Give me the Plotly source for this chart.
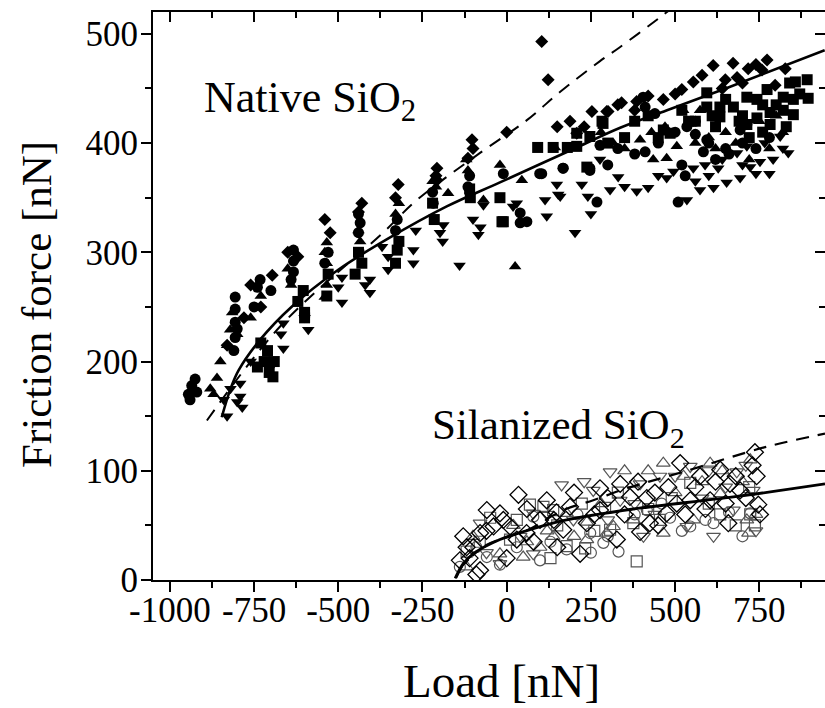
import plotly.graph_objects as go

# ---------------- data (load [nN], friction [nN]) ----------------
# Native SiO2 (filled symbols)
nat_circle_x = [-945, -935, -925, -940, -920, -806, -806, -806, -806, -810, -732, -740, -633, -633, -633, -540,
                -435, -440, -325, -218, -115, 40, 40, 60, 98, 104, 168, 167, 247, 247, 268, 277, 405, 411, 440,
                411, 509, 535, 560, 584, 594, 693, 713, 600, 650, 520,
                330, 380, 450, 500, 560, 620, 660, 700, 740, 780, 300, 530,
                -800, -750, -700, -640, -530, -440, -330, -220, -110, -10]
nat_circle_y = [170, 178, 184, 165, 172, 259, 248, 236, 222, 210, 275, 268, 302, 292, 282, 290,
                327, 318, 330, 345, 360, 336, 327, 328, 372, 372, 377, 377, 377, 375, 346, 398, 442, 433, 427,
                392, 346, 415, 408, 392, 403, 412, 417, 400, 395, 380,
                395, 390, 400, 410, 420, 385, 390, 400, 395, 405, 380, 370,
                230, 250, 265, 275, 300, 335, 320, 355, 370, 372]

nat_square_x = [-730, -720, -705, -694, -604, -600, -534, -440, -430, -325, -320, -215, -108, -14, -10, 92, 138,
                180, 208, 208, 238, 247, 286, 283, 465, 485, 594, 594, 633, 633, 673, 713, 713, 743, 743, 773,
                782, 782, 821, 821, 851, 851, 857, 892, 895, 560, 620, 700, 760,
                300, 350, 380, 420, 450, 520, 540, 610, 650, 690, 720, 760, 800, 830, 870, 840,
                -740, -710, -690, -620, -530, -450, -330, -220, -110, -20, -600]
nat_square_y = [217, 200, 190, 186, 265, 245, 260, 300, 290, 302, 310, 330, 350, 328, 328, 396, 396,
                396, 409, 397, 378, 406, 418, 420, 412, 409, 446, 433, 433, 424, 433, 442, 417, 440, 423, 449,
                428, 417, 442, 430, 440, 426, 456, 458, 441, 420, 415, 425, 435,
                400, 405, 420, 425, 405, 430, 420, 425, 440, 420, 405, 410, 435, 415, 445, 455,
                195, 210, 200, 255, 280, 280, 290, 345, 358, 350, 240]

nat_diamond_x = [-696, -730, -524, -440, -322, -207, -207, -103, -115, 0, 104, 123, 188, 208, 253, 301, 297,
                 341, 386, 465, 520, 554, 613, 649, 672, 684, 717, 758, 773, 797, 827, -620, -780, -830,
                 420, 500, 580, 640, 700, 740, 380, 330, 150, 230,
                 -760, -650, -540, -430, -330, -210, -100]
nat_diamond_y = [279, 250, 318, 337, 362, 377, 366, 403, 386, 410, 493, 458, 420, 409, 429, 429, 429,
                 437, 438, 440, 449, 456, 471, 458, 473, 460, 468, 467, 476, 453, 468, 296, 240, 215,
                 443, 445, 462, 450, 455, 472, 430, 435, 415, 415,
                 270, 300, 330, 345, 350, 370, 395]

nat_tri_up_x = [-870, -860, -850, -821, -815, -534, -534, -534, -540, -174, 45, 25, 143, 316, 396, 435, 475,
                505, 524, 574, -730, -640, -435, -320, -210, -115, 600, 650, 700, 750, 800, -69,
                350, 430, 470, 560, 620, 680, 720, 780, 820, 280, 200,
                -880, -830, -800, -760, -650, -540, -440, -330, -220, -120, -20]
nat_tri_up_y = [170, 185, 200, 229, 245, 309, 290, 270, 259, 354, 366, 287, 396, 400, 403, 385, 386,
                397, 430, 430, 260, 270, 310, 345, 360, 375, 405, 410, 415, 420, 425, 348,
                395, 410, 415, 400, 395, 400, 385, 395, 410, 410, 395,
                175, 215, 225, 240, 285, 300, 320, 335, 365, 385, 380]

nat_tri_dn_x = [-791, -791, -785, -663, -663, -589, -489, -489, -406, -406, -352, -352, -277, -277, -198, -188,
                -78, -84, 19, 30, 114, 119, 149, 159, 153, 203, 223, 241, 277, 307, 331, 386, 420, 475, 495,
                535, 554, 574, 589, 614, 628, 653, 684, 693, 713, 723, 752, 766, 791, 812, 836, -140, -840,
                -830, -760, -69,
                600, 640, 700, 740, 780, 820, 560, 450, 350, 250,
                -820, -800, -700, -670, -600, -500, -420, -370, -270, -190, -100]
nat_tri_dn_y = [180, 168, 158, 235, 212, 229, 277, 254, 275, 263, 296, 284, 302, 290, 318, 325,
                323, 316, 342, 345, 348, 333, 362, 351, 353, 318, 362, 351, 385, 357, 369, 356, 359, 368, 374,
                348, 377, 357, 380, 359, 377, 364, 391, 368, 397, 378, 383, 400, 385, 406, 391, 288, 165,
                150, 200, 343,
                370, 385, 380, 372, 372, 395, 365, 370, 360, 335,
                175, 163, 195, 225, 240, 268, 270, 305, 320, 310, 330]

# Silanized SiO2 (open symbols)
sil_diamond_x = [-139, -119, -79, -129, -79, -20, 35, -39, 10, 59, 119, 148, 188, 238, 277, 337, 366, 416, 425,
                 475, 515, 574, 604, 634, 663, 658, 693, 742, 737, 747, 752, 545, 327, 218, 99, -59, -99, 30,
                 505, 396, 277, 168,
                 -110, -60, -10, 60, 80, 140, 200, 260, 300, 350, 390, 440, 480, 530, 560, 590, 620, 650,
                 680, 710, 730, 450, 150, 0, -90]
sil_diamond_y = [18, 30, 9, 40, 43, 61, 78, 49, 49, 43, 73, 62, 67, 52, 84, 88, 76, 75, 52,
                 61, 107, 95, 73, 101, 88, 52, 82, 95, 117, 69, 60, 73, 37, 24, 55, 64, 30, 37,
                 70, 44, 64, 46,
                 20, 45, 55, 65, 35, 55, 80, 60, 75, 60, 90, 80, 85, 60, 85, 65, 90, 70,
                 95, 75, 105, 50, 30, 20, 5]

sil_tri_up_x = [-119, -20, 49, 99, 178, 238, 297, 376, 465, 525, 555, 604, 723, 718, 713, 634, 465, 376, 317,
                138, 238,
                -100, 20, 120, 200, 280, 350, 420, 500, 580, 640, 700, 740, 60]
sil_tri_up_y = [12, 24, 21, 30, 61, 53, 43, 88, 107, 95, 55, 107, 110, 43, 55, 79, 43, 55, 49,
                40, 37,
                40, 50, 45, 40, 70, 100, 100, 80, 90, 100, 90, 60, 35]

sil_tri_dn_x = [163, 307, 257, 396, 455, 545, 683, 732, 614, 406, 535, -20, -79, 79, 337, 673, 79, 198,
                -60, 40, 120, 230, 300, 380, 440, 500, 580, 650, 710, 740, 600]
sil_tri_dn_y = [87, 99, 82, 88, 95, 104, 99, 82, 40, 40, 49, 15, 52, 61, 73, 64, 24, 55,
                25, 40, 60, 90, 55, 70, 60, 95, 75, 85, 105, 45, 100]

sil_square_x = [69, 109, 223, 292, 376, 386, 233, 178, -49, 723, 737, 634, 545, 455, 307, -119, 10, 138,
                -80, 30, 150, 260, 330, 420, 490, 600, 680, 720, 130]
sil_square_y = [69, 67, 70, 66, 52, 17, 29, 31, 57, 60, 50, 60, 89, 55, 46, 26, 37, 64,
                35, 55, 50, 45, 80, 65, 75, 70, 50, 85, 20]

sil_circle_x = [-20, 99, 178, 287, 332, 485, 614, 723, 545, 416, -139, 79, 248, -59,
                -90, 30, 130, 210, 300, 380, 460, 520, 590, 660, 700, 250]
sil_circle_y = [14, 18, 28, 34, 26, 57, 52, 61, 49, 64, 12, 58, 43, 21,
                30, 30, 35, 60, 40, 60, 70, 45, 55, 62, 40, 25]

# Fit curves
nat_solid_x = [-846, -820, -796, -732, -639, -500, -355, -178, -20, 208, 337, 476, 650, 944]
nat_solid_y = [149, 175, 192, 220, 250, 284, 312, 342, 364, 396, 414, 430, 450, 485]
nat_dash_x = [-890, -670, -367, -266, -79, 60, 159, 277, 337, 455, 480]
nat_dash_y = [146, 233, 318, 348, 391, 421, 447, 475, 488, 515, 521]

sil_solid_x = [-153, -129, -99, -20, 79, 178, 376, 673, 945]
sil_solid_y = [1.5, 15, 24, 37, 47, 55, 65, 76, 88]
sil_dash_x = [-150, -120, -60, 64, 168, 257, 357, 524, 772, 945]
sil_dash_y = [2, 18, 32, 46, 64, 73, 84, 99, 122, 134]

x_ticks = [-1000, -750, -500, -250, 0, 250, 500, 750]
x_ticktext = ["-1000", "-750", "-500", "-250", "0", "250", "500", "750"]
y_ticks = [0, 100, 200, 300, 400, 500]
y_ticktext = ["0", "100", "200", "300", "400", "500"]

# ---------------- figure ----------------
FONT = "Liberation Serif, Times New Roman, serif"
W, H = 825, 708
ML, MR, MT, MB = 153, 0, 12, 128
XR = [-1050, 945]
YR = [0, 520]

fig = go.Figure()

def add_markers(x, y, symbol, size, color, lw=0):
    fig.add_trace(go.Scatter(
        x=x, y=y, mode="markers", showlegend=False, hoverinfo="skip",
        marker=dict(symbol=symbol, size=size, color=color,
                    line=dict(width=lw, color=color))))

# native (filled black)
add_markers(nat_circle_x, nat_circle_y, "circle", 11, "black")
add_markers(nat_square_x, nat_square_y, "square", 11, "black")
add_markers(nat_tri_up_x, nat_tri_up_y, "triangle-up", 11, "black")
add_markers(nat_tri_dn_x, nat_tri_dn_y, "triangle-down", 11, "black")
add_markers(nat_diamond_x, nat_diamond_y, "diamond", 10, "black")

# silanized (open)
GREY = "#555555"
add_markers(sil_circle_x, sil_circle_y, "circle-open", 11, GREY, 1.2)
add_markers(sil_square_x, sil_square_y, "square-open", 11, GREY, 1.2)
add_markers(sil_tri_up_x, sil_tri_up_y, "triangle-up-open", 12, GREY, 1.2)
add_markers(sil_tri_dn_x, sil_tri_dn_y, "triangle-down-open", 12, GREY, 1.2)
add_markers(sil_diamond_x, sil_diamond_y, "diamond-open", 13, "black", 1.3)

# fit lines
fig.add_trace(go.Scatter(x=nat_solid_x, y=nat_solid_y, mode="lines", showlegend=False, hoverinfo="skip",
                         line=dict(color="black", width=2.6, shape="spline", smoothing=1.0)))
fig.add_trace(go.Scatter(x=nat_dash_x, y=nat_dash_y, mode="lines", showlegend=False, hoverinfo="skip",
                         line=dict(color="black", width=2, dash="13px,9px", shape="spline")))
fig.add_trace(go.Scatter(x=sil_solid_x, y=sil_solid_y, mode="lines", showlegend=False, hoverinfo="skip",
                         line=dict(color="black", width=2.8, shape="spline")))
fig.add_trace(go.Scatter(x=sil_dash_x, y=sil_dash_y, mode="lines", showlegend=False, hoverinfo="skip",
                         line=dict(color="black", width=2.2, dash="13px,9px", shape="spline")))

# dummy trace for mirror axes
fig.add_trace(go.Scatter(x=[None], y=[None], xaxis="x2", yaxis="y2", showlegend=False, hoverinfo="skip"))

tickfont = dict(family=FONT, size=35, color="black")
common = dict(showgrid=False, zeroline=False, showline=True, linewidth=2, linecolor="black",
              tickwidth=2, tickcolor="black")

fig.update_layout(
    width=W, height=H,
    margin=dict(l=ML, r=MR, t=MT, b=MB, pad=0),
    paper_bgcolor="white", plot_bgcolor="white",
    showlegend=False,
    xaxis=dict(range=XR, tickmode="array", tickvals=x_ticks, ticktext=x_ticktext,
               ticks="outside", ticklen=10, tickfont=tickfont, ticklabelstandoff=-12,
               minor=dict(dtick=125, tick0=0, ticks="outside", ticklen=6, tickwidth=2,
                          tickcolor="black", showgrid=False),
               **common),
    yaxis=dict(range=YR, tickmode="array", tickvals=y_ticks, ticktext=y_ticktext,
               ticks="outside", ticklen=10, tickfont=tickfont, ticklabelstandoff=-4,
               minor=dict(dtick=50, tick0=0, ticks="outside", ticklen=6, tickwidth=2,
                          tickcolor="black", showgrid=False),
               **common),
    xaxis2=dict(range=XR, overlaying="x", side="top", anchor="y", tickmode="array", tickvals=x_ticks,
                ticks="inside", ticklen=10, showticklabels=False,
                minor=dict(dtick=125, tick0=0, ticks="inside", ticklen=6, tickwidth=2,
                           tickcolor="black", showgrid=False),
                **common),
    yaxis2=dict(range=YR, overlaying="y", side="right", anchor="x", tickmode="array", tickvals=y_ticks,
                ticks="inside", ticklen=10, showticklabels=False,
                minor=dict(dtick=50, tick0=0, ticks="inside", ticklen=6, tickwidth=2,
                           tickcolor="black", showgrid=False),
                **common),
)

pw = W - ML - MR
ph = H - MT - MB

def px2paper(px, py):
    return (px - ML) / pw, (H - MB - py) / ph

ax, ay = px2paper(36, 305)
bx, by = px2paper(501, 681)
nx, ny = px2paper(202, 100)
sx, sy = px2paper(430, 428)

fig.add_annotation(text="Friction force [nN]", x=ax, y=ay, xref="paper", yref="paper",
                   textangle=-90, showarrow=False, xanchor="center", yanchor="middle",
                   font=dict(family=FONT, size=43, color="black"))
fig.add_annotation(text="Load [nN]", x=bx, y=by, xref="paper", yref="paper",
                   showarrow=False, xanchor="center", yanchor="middle",
                   font=dict(family=FONT, size=47, color="black"))
fig.add_annotation(text="Native SiO<sub>2</sub>", x=nx, y=ny, xref="paper", yref="paper",
                   showarrow=False, xanchor="left", yanchor="middle",
                   font=dict(family=FONT, size=44, color="black"))
fig.add_annotation(text="Silanized SiO<sub>2</sub>", x=sx, y=sy, xref="paper", yref="paper",
                   showarrow=False, xanchor="left", yanchor="middle",
                   font=dict(family=FONT, size=43, color="black"))

fig.write_html("out.html")
